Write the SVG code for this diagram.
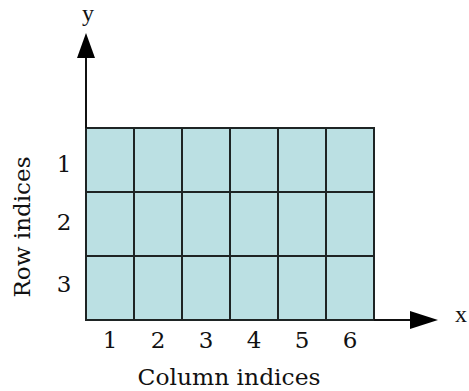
<svg xmlns="http://www.w3.org/2000/svg" width="469" height="391" viewBox="0 0 469 391">
<style>
.cell{fill:#bbe0e3;stroke:#1e2424;stroke-width:2}
.axis{stroke:#111;stroke-width:2;fill:none}
.head{fill:#000}
.num{font-family:"DejaVu Serif",serif;font-size:23px;fill:#111;text-anchor:middle}
.lbl{font-family:"DejaVu Serif",serif;font-size:22px;fill:#111;text-anchor:middle}
.ax{font-family:"Liberation Serif",serif;font-size:24px;fill:#111;text-anchor:middle}
</style>
<rect width="469" height="391" fill="#fff"/>
<g id="grid">
<rect class="cell" x="86" y="128" width="288" height="192"/>
<path class="cell" d="M134 128V320M182 128V320M230 128V320M278 128V320M326 128V320M86 192H374M86 256H374" fill="none"/>
</g>
<g id="connectors">
<path class="axis" d="M86 128V56"/>
<polygon class="head" points="86,33 95,58 77,58"/>
<path class="axis" d="M374 320H412"/>
<polygon class="head" points="438,320 410,311 410,329"/>
</g>
<g id="axis-labels">
<text class="ax" x="88" y="21">y</text>
<text class="ax" x="461" y="322">x</text>
</g>
<g id="column-numbers">
<text class="num" x="110" y="348">1</text>
<text class="num" x="158" y="348">2</text>
<text class="num" x="206" y="348">3</text>
<text class="num" x="254" y="348">4</text>
<text class="num" x="302" y="348">5</text>
<text class="num" x="350" y="348">6</text>
</g>
<g id="row-numbers">
<text class="num" x="64" y="172">1</text>
<text class="num" x="64" y="230">2</text>
<text class="num" x="64" y="292">3</text>
</g>
<g id="titles">
<text class="lbl" x="229" y="385" textLength="183" lengthAdjust="spacingAndGlyphs">Column indices</text>
<text class="lbl" transform="translate(30,227) rotate(-90)" x="0" y="0" textLength="141" lengthAdjust="spacingAndGlyphs">Row indices</text>
</g>
</svg>
